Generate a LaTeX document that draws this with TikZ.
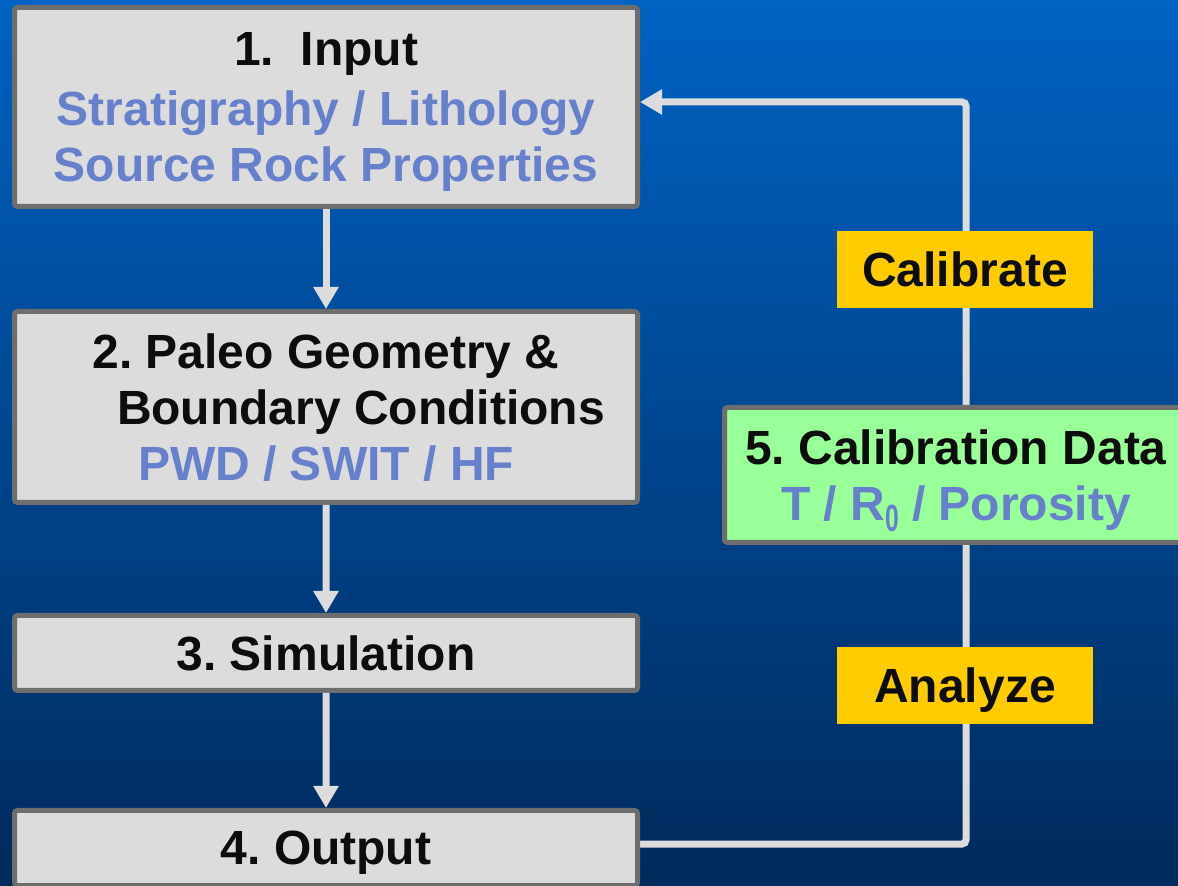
\documentclass[tikz,border=0pt]{standalone}
\usepackage{fontspec}
\setmainfont{Liberation Sans}
\usepackage{tikz}
\usetikzlibrary{arrows.meta,calc,trees}
\pgfdeclarelayer{backdrop}
\pgfdeclarelayer{background}
\pgfsetlayers{backdrop,background,main}
\definecolor{sky}{RGB}{0,98,194}
\definecolor{deep}{RGB}{0,42,92}
\definecolor{boxgray}{RGB}{220,220,220}
\definecolor{rimgray}{RGB}{110,110,110}
\definecolor{subblue}{RGB}{102,128,204}
\definecolor{calgreen}{RGB}{153,255,153}
\definecolor{tagyellow}{RGB}{255,204,0}
\newcommand{\subline}[1]{\textcolor{subblue}{#1}}
\newcommand{\lowzero}{\raisebox{-5.5pt}{\scalebox{0.65}[1]{\fontsize{19}{19}\selectfont 0}}}
\frenchspacing

\begin{document}
\begin{tikzpicture}[x=0.5pt,y=-0.5pt,
  font=\fontsize{24}{28}\selectfont\bfseries,
  stepbox/.style={draw=rimgray,line width=2.5pt,fill=boxgray,rounded corners=1.5pt,
    align=center,minimum width=311.5pt,inner sep=0pt,text depth=0pt,text=black!95},
  tagbox/.style={fill=tagyellow,minimum width=128pt,minimum height=38.5pt,
    inner sep=0pt,text depth=0pt,text=black!95},
  flow/.style={draw=boxgray,line width=3.5pt,-{Triangle[width=12pt,length=11pt]}},
  edge from parent/.style={flow}]
\useasboundingbox (0,0) rectangle (1178,886);
\begin{pgfonlayer}{backdrop}
\shade[top color=sky,bottom color=deep] (0,0) rectangle (1178,886);
\end{pgfonlayer}
\tikzstyle{level 1}=[level distance=150pt]
\tikzstyle{level 2}=[level distance=123pt]
\tikzstyle{level 3}=[level distance=97.5pt]
\node[stepbox,minimum height=99.5pt] (input) at (326,107)
  {1.\ \ Input\\[2pt] \subline{Stratigraphy / Lithology}\\ \subline{Source Rock Properties}}
  child { node[stepbox,minimum height=95.5pt] (geom)
    {2. Paleo Geometry \&\\ \hspace*{35pt}Boundary Conditions\\ \subline{PWD / SWIT / HF}}
    child { node[stepbox,minimum height=37.5pt] (sim) {3. Simulation}
      child { node[stepbox,minimum height=37.5pt] (output) {4. Output} }
    }
  };
\node[stepbox,fill=calgreen,minimum width=231.5pt,minimum height=67.5pt] (caldata) at (956,475)
  {5. Calibration Data\\ \subline{T / R\lowzero\ / Porosity}};
\node[tagbox] (calib) at (965,269.5) {Calibrate};
\node[tagbox] (analyze) at (965,685.5) {Analyze};
\coordinate (looptop) at (966,102);
\coordinate (loopbot) at (966,844);
\begin{pgfonlayer}{background}
\draw[flow,rounded corners=2pt] (output.east |- loopbot) -- (loopbot) -- (looptop) -- (input.east |- looptop);
\end{pgfonlayer}
\end{tikzpicture}
\end{document}
